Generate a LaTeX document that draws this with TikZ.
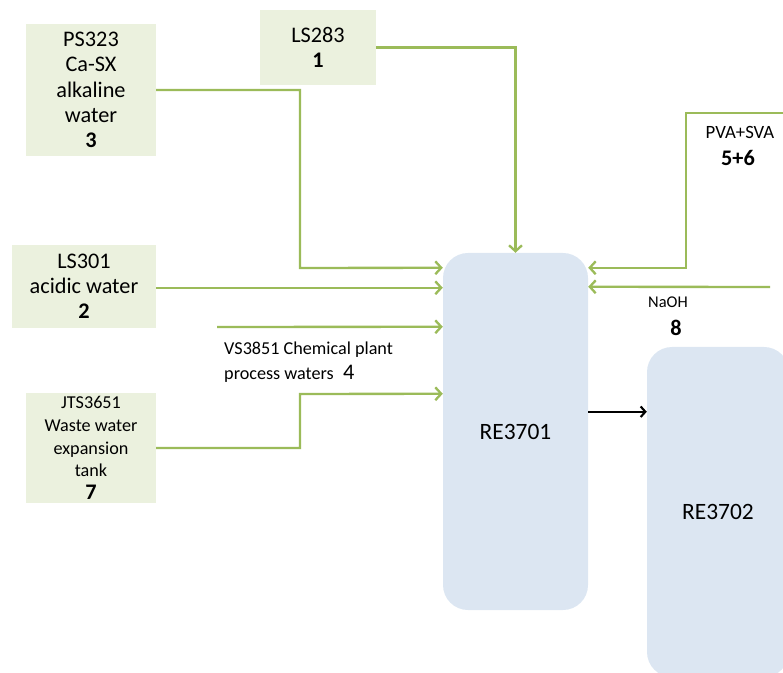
\documentclass[tikz,border=0pt]{standalone}
\usepackage{fontspec}
\setmainfont{Carlito}
\usetikzlibrary{calc,arrows.meta}
\definecolor{feedgreen}{HTML}{9BBB59}
\definecolor{srcbg}{HTML}{EBF1DE}
\definecolor{tankbg}{HTML}{DCE6F2}
\tikzset{src/.style={fill=srcbg,inner sep=0pt,align=center,font=\fontsize{19}{21.5}\selectfont},
  tank/.style={fill=tankbg,rounded corners=0.75cm,inner sep=0pt,font=\fontsize{20}{24}\selectfont},
  feed/.style={feedgreen,line width=2pt,-{Straight Barb[length=5pt,width=11pt]}},
  flow/.style={black,line width=1.8pt,-{Straight Barb[length=4pt,width=9pt]}},
  lbl/.style={inner sep=0pt,align=left,font=\fontsize{15.5}{21}\selectfont},
  num/.style={inner sep=0pt,font=\fontsize{19}{21}\selectfont\bfseries}}

\begin{document}
\begin{tikzpicture}[x=0.03cm,y=-0.03cm]
\clip (0,0) rectangle (783,673);
\node[src,minimum width=3.9cm,minimum height=3.96cm] (ps323) at (91,90) {PS323\\Ca-SX\\alkaline\\water\\\textbf{3}};
\node[src,minimum width=3.48cm,minimum height=2.25cm] (ls283) at (318,47.5) {LS283\\\textbf{1}};
\node[src,minimum width=4.32cm,minimum height=2.49cm] (ls301) at (84,286.5) {LS301\\acidic water\\\textbf{2}};
\node[src,minimum width=3.9cm,minimum height=3.3cm,font=\fontsize{15.5}{19.5}\selectfont] (jts3651) at (91,448) {JTS3651\\Waste water\\expansion\\tank\\{\fontsize{19}{24}\selectfont\bfseries 7}};
\node[tank,minimum width=4.35cm,minimum height=10.71cm] (re3701) at (515.5,431.5) {RE3701};
\node[tank,minimum width=4.26cm,minimum height=9.9cm] (re3702) at (718,512) {RE3702};
\coordinate (in3) at ($(re3701.north west)+(0,15)$); \coordinate (in2) at ($(re3701.north west)+(0,35)$);
\coordinate (in4) at ($(re3701.north west)+(0,74)$); \coordinate (in7) at ($(re3701.north west)+(0,141)$);
\coordinate (in5) at ($(re3701.north east)+(0,15)$); \coordinate (in8) at ($(re3701.north east)+(0,34)$);
\coordinate (out1) at ($(re3701.north east)+(0,159)$);
\coordinate (turn3) at (300,268); \coordinate (turn7) at (300,394);
\coordinate (vs3851) at (217,327); \coordinate (pva) at (790,113); \coordinate (pvaturn) at (686,113);
\coordinate (naoh) at (770,287);
\draw[feed] (ls283.east) -| (re3701.north);
\draw[feed] (ps323.east) -| (turn3) -- (in3);
\draw[feed] (ls301.east |- in2) -- (in2);
\draw[feed] (vs3851) -- (in4);
\draw[feed] (jts3651.east) -| (turn7) -- (in7);
\draw[feed] (pva) -- (pvaturn) |- (in5);
\draw[feed] (naoh) -- (in8);
\draw[flow] (out1) -- (out1 -| re3702.west);
\node[lbl,anchor=west] (lbl4) at (224,362) {VS3851 Chemical plant\\process waters\hspace{8pt}{\fontsize{19}{21}\selectfont 4}};
\node[lbl,font=\fontsize{16}{20}\selectfont] (lbl5) at (740,132) {PVA+SVA};
\node[num] (num5) at (738,158) {5+6};
\node[lbl,font=\fontsize{14}{18}\selectfont] (lbl8) at (668,302) {NaOH};
\node[num] (num8) at (676,328) {8};
\end{tikzpicture}
\end{document}
